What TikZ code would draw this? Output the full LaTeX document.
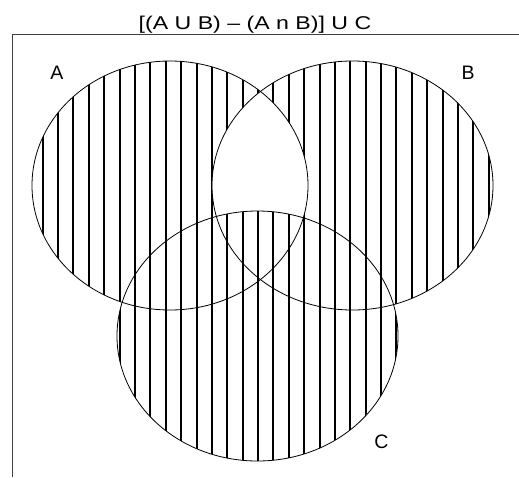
\documentclass[tikz,border=0pt]{standalone}
\usepackage{fontspec}
\setmainfont{Liberation Sans}
\begin{document}
\begin{tikzpicture}[x=1pt,y=-1pt,
  ring/.style={draw=black,line width=0.8pt},
  hatch/.style={draw=black,line width=1.6pt},
  lbl/.style={font=\fontsize{19.5}{22}\selectfont, inner sep=0pt},
  ttl/.style={font=\fontsize{18.5}{21}\selectfont, inner sep=0pt, xscale=1.25},
  frameline/.style={draw=black!75, line width=1pt}]
\useasboundingbox (0,0) rectangle (519,477);
% hatching in A xor B
\begin{scope}[even odd rule]
\clip (170,185.5) ellipse [x radius=138, y radius=124.5]
      (352.5,185.5) ellipse [x radius=140.5, y radius=124.5];
\foreach \k in {0,...,30} \draw[hatch] ({round(42.7+15.38*\k)},0) -- ({round(42.7+15.38*\k)},477);
\end{scope}
% hatching in C
\begin{scope}
\clip (257.5,336) ellipse [x radius=140.5, y radius=125];
\foreach \k in {0,...,30} \draw[hatch] ({round(42.7+15.38*\k)},0) -- ({round(42.7+15.38*\k)},477);
\end{scope}
% circles
\draw[ring] (170,185.5) ellipse [x radius=138, y radius=124.5];
\draw[ring] (352.5,185.5) ellipse [x radius=140.5, y radius=124.5];
\draw[ring] (257.5,336) ellipse [x radius=140.5, y radius=125];
% frame
\coordinate (fr) at (519,34.5);
\coordinate (fc) at (12,34.5);
\coordinate (fb) at (12,477);
\draw[frameline] (fr) -- (fc) -- (fb);
% labels
\node[lbl] (la) at (57,73) {A};
\node[lbl] (lb) at (468,72.5) {B};
\node[lbl] (lc) at (381.5,441.5) {C};
\node[ttl] (title) at (255,24.5) {[(A U B) – (A n B)] U C};
\end{tikzpicture}
\end{document}
